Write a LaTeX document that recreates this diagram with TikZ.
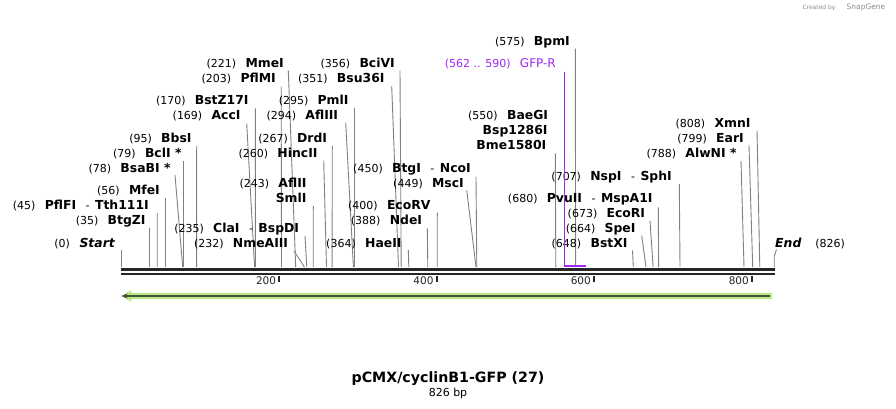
\documentclass[tikz,border=0pt]{standalone}
\usepackage{fontspec}
\setmainfont{DejaVu Sans}
\usetikzlibrary{arrows.meta}
\definecolor{gfp}{RGB}{160,40,240}
\definecolor{arrlight}{RGB}{184,233,134}
\definecolor{arrdark}{RGB}{70,85,55}
\newcommand\nf{\fontsize{11}{13}\selectfont\mdseries\upshape}
\newcommand\bfn{\fontsize{12.4}{14}\selectfont\bfseries}
\newcommand\sepdash{\hspace{9.5pt}{\nf -}\hspace{5.5pt}}
\newcommand\lbl[2]{{\nf(#1)}\hspace{9.3pt}{\bfn #2}}
% name, right x, centre y, text, leader start x, y, site x
\newcommand\enz[7]{%
  \node[lab] (l#1) at (#2,#3) {#4};
  \coordinate (t#1) at (#5,#6);
  \coordinate (s#1) at (#7,267);
  \draw[leader] (t#1) -- (s#1);}
\tikzset{
  lab/.style={anchor=mid east, inner sep=0pt, text=black},
  leader/.style={draw=black!50, line width=0.9pt},
  baseln/.style={draw=black!85, line width=2.6pt},
  tickm/.style={draw=black!85, line width=1.8pt},
  ticklab/.style={anchor=mid east, inner sep=0pt, font=\fontsize{10.5}{12}\selectfont, text=black!85},
}
\begin{document}
\begin{tikzpicture}[x=1pt,y=-1pt]
\useasboundingbox (0,0) rectangle (896,408);
\fill[white] (0,0) rectangle (896,408);

% baseline
\coordinate (b1l) at (121,269.5); \coordinate (b1r) at (774.5,269.5);
\coordinate (b2l) at (121,273.8); \coordinate (b2r) at (774.5,273.8);
\draw[baseln] (b1l) -- (b1r);
\draw[baseln] (b2l) -- (b2r);

% ticks
\foreach \xx/\tt in {279.3/200,436.7/400,594/600,752/800}{
  \draw[tickm] (\xx,275.5) -- (\xx,282);
  \node[ticklab] (tk\tt) at (\xx-3,282) {\tt};
}

% Start / End
\node[lab] (lStart) at (115,245) {{\nf(0)}\hspace{9.6pt}{\bfn\itshape Start}};
\coordinate (tStart) at (121.3,250); \coordinate (sStart) at (121.3,267);
\draw[leader] (tStart) -- (sStart);
\node[anchor=mid west, inner sep=0pt] (lEnd) at (775,245) {{\bfn\itshape End}\hspace{14pt}{\nf(826)}};
\coordinate (tEnd) at (776.5,249.5); \coordinate (mEnd) at (774.2,256.5); \coordinate (sEnd) at (774.2,267);
\draw[leader] (tEnd) -- (mEnd) -- (sEnd);

% enzymes
\enz{BtgZI}{145.7}{222}{\lbl{35}{BtgZI}}{149.3}{227.7}{149.3}
\enz{PflFI}{149}{206.7}{\lbl{45}{PflFI}\sepdash{\bfn Tth111I}}{157.3}{213.3}{157.2}
\enz{MfeI}{160}{191.7}{\lbl{56}{MfeI}}{165.3}{198.3}{165.3}
\enz{BsaBI}{170.7}{170}{\lbl{78}{BsaBI *}}{175}{175}{182.7}
\enz{BclI}{181.7}{154.3}{\lbl{79}{BclI *}}{183.3}{161}{183.3}
\enz{BbsI}{191.7}{139.3}{\lbl{95}{BbsI}}{196.7}{146}{196.6}
\enz{AccI}{240.7}{116.7}{\lbl{169}{AccI}}{246.7}{123.3}{254.6}
\enz{BstZ17I}{248.7}{101.7}{\lbl{170}{BstZ17I}}{255.3}{108.3}{255.4}
\enz{PflMI}{276}{80}{\lbl{203}{PflMI}}{281.2}{86.7}{281.5}
\enz{MmeI}{284}{64.3}{\lbl{221}{MmeI}}{288.3}{70.7}{295.7}
\enz{NmeAIII}{288.3}{245}{\lbl{232}{NmeAIII}}{294}{251}{304.4}
\enz{ClaI}{299.3}{229.5}{\lbl{235}{ClaI}\sepdash{\bfn BspDI}}{305}{236}{306.8}
\enz{AflII}{306.7}{185}{\lbl{243}{AflII}}{313.3}{206}{313.2}
\node[lab] (lSmlI) at (306.7,200) {\bfn SmlI};
\enz{HincII}{317.7}{154.5}{\lbl{260}{HincII}}{323.7}{160.7}{326.5}
\enz{DrdI}{327.3}{139.3}{\lbl{267}{DrdI}}{332.3}{146}{332.1}
\enz{AflIII}{338.3}{117}{\lbl{294}{AflIII}}{345.7}{122.7}{353.4}
\enz{PmlI}{348.7}{101.7}{\lbl{295}{PmlI}}{354.3}{108}{354.3}
\enz{Bsu36I}{384.7}{80}{\lbl{351}{Bsu36I}}{391.7}{86}{398.5}
\enz{BciVI}{395}{64.3}{\lbl{356}{BciVI}}{400}{70.7}{401.2}
\enz{HaeII}{401.7}{245}{\lbl{364}{HaeII}}{408.3}{250}{408.8}
\enz{NdeI}{422.3}{221.7}{\lbl{388}{NdeI}}{427.3}{228.3}{427.8}
\enz{EcoRV}{430.7}{206.7}{\lbl{400}{EcoRV}}{437.3}{212.7}{437.2}
\enz{MscI}{464}{184.7}{\lbl{449}{MscI}}{466.7}{190}{476}
\enz{BtgI}{471}{170}{\lbl{450}{BtgI}\sepdash{\bfn NcoI}}{476}{176.7}{476.8}
\enz{BaeGI}{548.3}{116.7}{\lbl{550}{BaeGI}}{555.3}{153.3}{555.8}
\node[lab] (lBsp) at (547.7,131.7) {\bfn Bsp1286I};
\node[lab] (lBme) at (546.5,146.7) {\bfn Bme1580I};
\enz{BpmI}{570}{42.3}{\lbl{575}{BpmI}}{575.3}{48.5}{575.6}
\enz{BstXI}{627.7}{245}{\lbl{648}{BstXI}}{632.5}{250.5}{633.3}
\enz{SpeI}{635.7}{230}{\lbl{664}{SpeI}}{641.7}{235.7}{646}
\enz{EcoRI}{645.3}{215}{\lbl{673}{EcoRI}}{650}{220.7}{653.1}
\enz{PvuII}{652.7}{199.3}{\lbl{680}{PvuII}\sepdash{\bfn MspA1I}}{658.3}{207.3}{658.6}
\enz{NspI}{672}{177.3}{\lbl{707}{NspI}\sepdash{\bfn SphI}}{679.3}{184}{680}
\enz{AlwNI}{736.7}{154.3}{\lbl{788}{AlwNI *}}{741}{161}{744}
\enz{EarI}{744}{139.3}{\lbl{799}{EarI}}{749}{145.7}{752.7}
\enz{XmnI}{750.7}{124.3}{\lbl{808}{XmnI}}{757}{130.7}{759.8}

% GFP-R primer
\node[lab, text=gfp] (lGFP) at (556,65) {{\nf(562 .. 590)}\hspace{9.3pt}{\fontsize{12}{14}\selectfont GFP-R}};
\coordinate (tGFP) at (564.8,71.7); \coordinate (sGFP) at (564.8,265.7);
\coordinate (eGFP) at (586,265.7);
\draw[gfp, line width=1pt] (tGFP) -- (sGFP);
\draw[gfp, line width=2.2pt] ([xshift=-0.5pt]sGFP) -- (eGFP);

% green feature arrow
\coordinate (ar) at (772,296); \coordinate (al) at (121.5,296);
\fill[arrlight] (772,292.8) -- (131,292.8) -- (131,290.5) -- (121.5,296) -- (131,301.5) -- (131,299.2) -- (772,299.2) -- cycle;
\draw[arrdark, line width=1.8pt, -{Stealth[length=6pt,width=5pt]}] (769.5,296) -- (al);

% title
\node[inner sep=0pt] (title) at (448,378.3) {\fontsize{14.2}{16}\selectfont\bfseries pCMX/cyclinB1-GFP (27)};
\node[inner sep=0pt] (bp) at (448,393.3) {\fontsize{11}{13}\selectfont 826 bp};

% credit
\node[inner sep=0pt, text=black!45] (created) at (819,7.5) {\fontsize{6}{7}\selectfont Created by};
\node[inner sep=0pt, text=black!45] (snapgene) at (866,7) {\fontsize{7.5}{9}\selectfont SnapGene};
\end{tikzpicture}
\end{document}
